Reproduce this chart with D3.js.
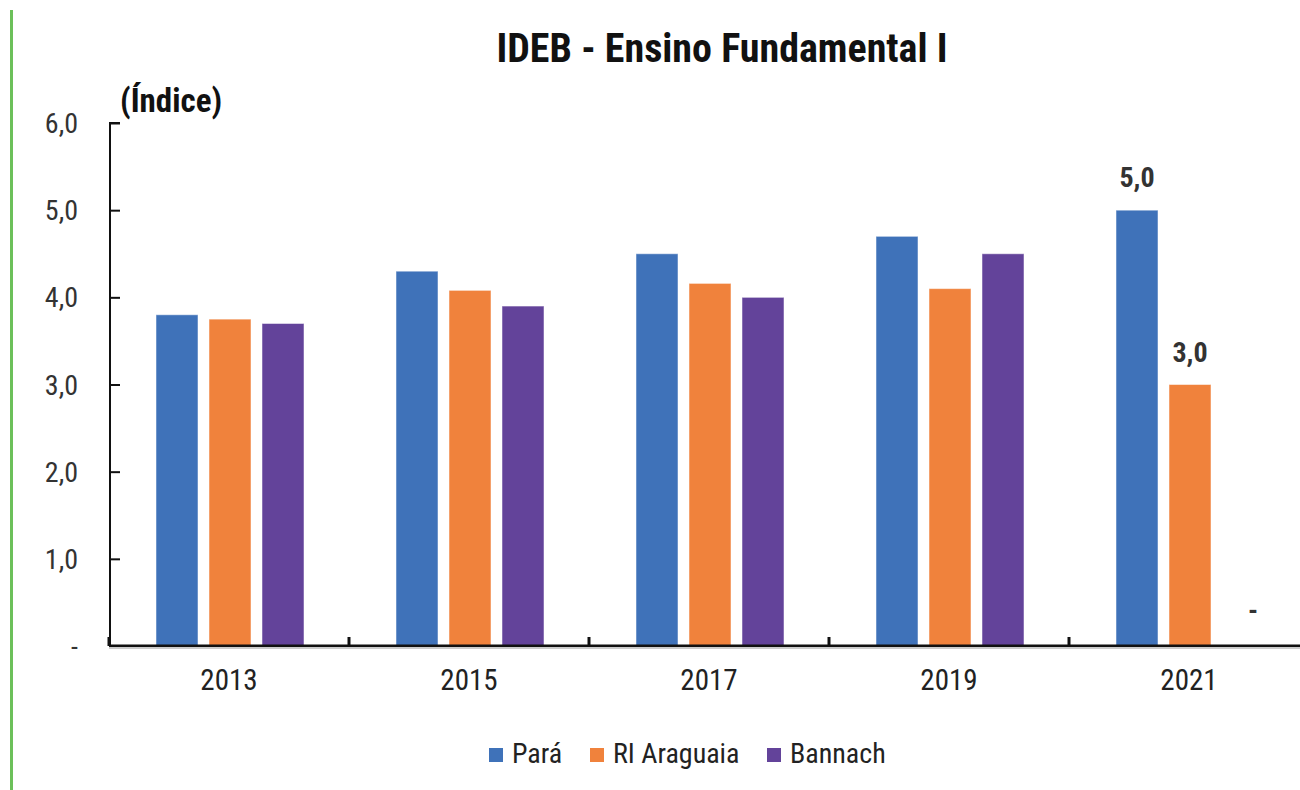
<!DOCTYPE html>
<meta charset="utf-8">
<script src="https://d3js.org/d3.v7.min.js"></script>
<style>
  body { margin: 0; background: #fff; }
  text { font-family: "Liberation Sans Narrow", "Roboto Condensed", Arial, sans-serif; }
</style>
<body>
<div id="my_dataviz"></div>
<script>

// data
var years = ["2013", "2015", "2017", "2019", "2021"];
var seriesNames = ["Pará", "RI Araguaia", "Bannach"];
var para = [3.8, 4.3, 4.5, 4.7, 5.0];
var riAraguaia = [3.75, 4.08, 4.16, 4.1, 3.0];
var bannach = [3.7, 3.9, 4.0, 4.5, null];
var yTicks = [0, 1, 2, 3, 4, 5, 6];
var colors = ["#3f72b9", "#f0823c", "#63439a"];

var allSeries = [para, riAraguaia, bannach];

var width = 1300, height = 790;
var svg = d3.select("#my_dataviz")
  .append("svg")
  .attr("width", width)
  .attr("height", height);

// green stripe at the left
svg.append("rect")
  .attr("x", 10).attr("y", 10)
  .attr("width", 3).attr("height", 780)
  .attr("fill", "#6cc05a");

// scales
var x0 = d3.scaleBand()
  .domain(years)
  .range([109, 1309])
  .padding(0);

var x1 = d3.scaleBand()
  .domain(seriesNames)
  .range([47, 195])
  .paddingInner(0.2075)
  .paddingOuter(0);

var y = d3.scaleLinear()
  .domain([0, 6])
  .range([646, 123]);

// title
svg.append("text")
  .attr("x", 722).attr("y", 62)
  .attr("text-anchor", "middle")
  .style("font-weight", "bold")
  .style("font-size", "40px")
  .attr("fill", "#111")
  .text("IDEB - Ensino Fundamental I");

svg.append("text")
  .attr("x", 120).attr("y", 112)
  .style("font-weight", "bold")
  .style("font-size", "33px")
  .attr("fill", "#111")
  .text("(Índice)");

// Y axis
var yAxis = svg.append("g")
  .attr("transform", "translate(110,0)")
  .call(d3.axisRight(y).tickValues(yTicks).tickSize(10).tickFormat(""));
yAxis.select(".domain").attr("stroke", "#111").attr("stroke-width", 2)
  .attr("d", "M0," + y(0) + "V" + y(6) + "H10");
yAxis.selectAll(".tick line").attr("stroke", "#111").attr("stroke-width", 2);

svg.append("g").selectAll("text")
  .data(yTicks)
  .enter().append("text")
  .attr("x", 78)
  .attr("y", function(d) { return y(d) + 10; })
  .attr("text-anchor", "end")
  .style("font-size", "28px")
  .attr("fill", "#333")
  .text(function(d) { return d === 0 ? "-" : d3.format(".1f")(d).replace(".", ","); });

// bars
var groups = svg.append("g").selectAll("g")
  .data(years)
  .enter().append("g")
  .attr("transform", function(d) { return "translate(" + x0(d) + ",0)"; });

groups.selectAll("rect")
  .data(function(d, i) {
    return seriesNames.map(function(s, j) { return { name: s, value: allSeries[j][i], c: colors[j] }; });
  })
  .enter().filter(function(d) { return d.value != null; })
  .append("rect")
  .attr("x", function(d) { return x1(d.name); })
  .attr("y", function(d) { return y(d.value); })
  .attr("width", x1.bandwidth())
  .attr("height", function(d) { return y(0) - y(d.value); })
  .attr("fill", function(d) { return d.c; })
  .attr("stroke", "rgba(255,255,255,0.5)")
  .attr("stroke-width", 1);

// labels for 2021
var last = years.length - 1;
var lastGroup = svg.append("g").attr("transform", "translate(" + x0(years[last]) + ",0)");
seriesNames.forEach(function(s, j) {
  var v = allSeries[j][last];
  lastGroup.append("text")
    .attr("x", x1(s) + x1.bandwidth() / 2 + (v == null ? 10 : 0))
    .attr("y", v == null ? y(0) - 26 : y(v) - 23)
    .attr("text-anchor", "middle")
    .style("font-weight", "bold")
    .style("font-size", "28px")
    .attr("fill", "#333")
    .text(v == null ? "-" : d3.format(".1f")(v).replace(".", ","));
});

// X axis
var xAxis = svg.append("g")
  .attr("transform", "translate(0," + y(0) + ")")
  .call(d3.axisBottom(x0).tickSize(0).tickFormat(""));
svg.append("line")
  .attr("x1", 109).attr("x2", 1300)
  .attr("y1", y(0) + 2).attr("y2", y(0) + 2)
  .attr("stroke", "#ccc").attr("stroke-width", 2);
xAxis.select(".domain").attr("stroke", "#111").attr("stroke-width", 3)
  .attr("d", "M109,0H1300");
xAxis.selectAll(".tick line").remove();

svg.append("g").selectAll("line")
  .data(years)
  .enter().append("line")
  .attr("x1", function(d) { return x0(d); })
  .attr("x2", function(d) { return x0(d); })
  .attr("y1", y(0)).attr("y2", y(0) - 9)
  .attr("stroke", "#111").attr("stroke-width", 3);

svg.append("g").selectAll("text")
  .data(years)
  .enter().append("text")
  .attr("x", function(d) { return x0(d) + x0.bandwidth() / 2; })
  .attr("y", 690)
  .attr("text-anchor", "middle")
  .style("font-size", "29px")
  .attr("fill", "#222")
  .text(function(d) { return d; });

// legend
var legendX = [489, 590, 767];
var legend = svg.append("g").selectAll("g")
  .data(seriesNames)
  .enter().append("g")
  .attr("transform", function(d, i) { return "translate(" + legendX[i] + ",748)"; });
legend.append("rect")
  .attr("width", 14).attr("height", 14)
  .attr("fill", function(d, i) { return colors[i]; });
legend.append("text")
  .attr("x", 23).attr("y", 15)
  .style("font-size", "28px")
  .attr("fill", "#222")
  .text(function(d) { return d; });

</script>
</body>
